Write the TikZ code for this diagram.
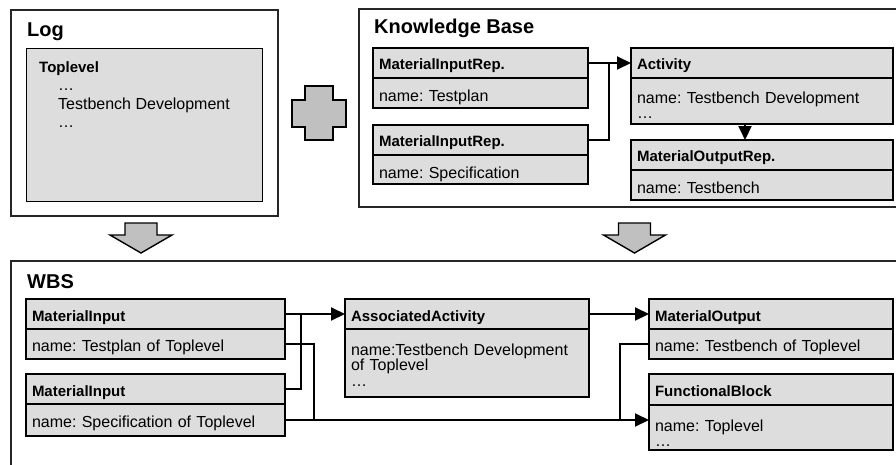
\documentclass[tikz,border=0pt]{standalone}
\usepackage{fontspec}
\setmainfont{Liberation Sans}
\usetikzlibrary{positioning,arrows.meta}
\definecolor{boxgray}{HTML}{DDDDDD}
\definecolor{arrgray}{HTML}{C0C0C0}
\frenchspacing
\newcommand{\dnarrow}[1]{%
  \draw[blk, shift={#1}] (-16,0) -- (16,0) -- (16,12) -- (31,12) -- (0,30)
    -- (-31,12) -- (-16,12) -- cycle;}

\begin{document}
\begin{tikzpicture}[x=1pt,y=-1pt,
    font=\fontsize{16}{15.5}\selectfont,
    frame/.style={draw=black!85, line width=1.3pt},
    blk/.style={draw, line width=1.4pt, fill=arrgray},
    hdr/.style={draw, line width=1.4pt, fill=boxgray, outer sep=0pt, inner xsep=6pt,
      inner ysep=0pt, text height=21.5pt, text depth=9.5pt, text width=#1, align=left,
      font=\fontsize{15}{18}\selectfont\bfseries},
    bdy/.style={draw, line width=1.4pt, fill=boxgray, outer sep=0pt, inner xsep=6pt,
      inner ysep=0pt, text height=23pt, text depth=7pt, text width=#1, align=left},
    ttl/.style={inner sep=0pt, anchor=west, font=\fontsize{20}{24}\selectfont\bfseries},
    conn/.style={line width=2pt},
    arr/.style={-{Triangle[length=14pt,width=13pt]}}]
  \clip (0,0) rectangle (896,464);
  \fill[white] (0,0) rectangle (896,464);

  % log
  \draw[frame] (11,10) rectangle (278,216);
  \node[ttl] (logTtl) at (27,32) {Log};
  \node[draw, line width=1.4pt, fill=boxgray, anchor=north west, minimum width=236pt,
    minimum height=153pt] (logTop) at (26,48) {};
  \node[anchor=north west, align=left, inner sep=0pt, font=\fontsize{16}{18.5}\selectfont] (logTxt)
    at ([shift={(13,13)}]logTop.north west)
    {{\fontsize{15}{18}\selectfont\bfseries Toplevel}\\ \hspace*{19pt}…\\
     \hspace*{19pt}Testbench Development\\ \hspace*{19pt}…};

  % merge sign
  \draw[blk] (305,86) -- (333,86) -- (333,100) -- (346,100) -- (346,127) -- (333,127)
    -- (333,140) -- (305,140) -- (305,127) -- (292,127) -- (292,100) -- (305,100) -- cycle;

  % knowledge base
  \draw[frame] (359,9) rectangle (910,207);
  \node[ttl] (kbTtl) at (374,28) {Knowledge Base};
  \node[hdr=203pt, anchor=north west, text depth=8.5pt] (kbIn1) at (373,48) {MaterialInputRep.};
  \node[bdy=203pt, below=0pt of kbIn1, text depth=7pt] (kbIn1b) {name: Testplan};
  \node[hdr=203pt, below=17pt of kbIn1b, text depth=8.5pt] (kbIn2) {MaterialInputRep.};
  \node[bdy=203pt, below=0pt of kbIn2, text depth=6pt] (kbIn2b) {name: Specification};
  \node[hdr=250pt, right=43pt of kbIn1, text depth=8.5pt] (kbAct) {Activity};
  \node[bdy=250pt, below=0pt of kbAct, text height=25pt, text depth=21pt] (kbActb)
    {name: Testbench Development\\…};
  \node[hdr=250pt, below=16pt of kbActb, text depth=8.5pt] (kbOut) {MaterialOutputRep.};
  \node[bdy=250pt, below=0pt of kbOut, text depth=7pt] (kbOutb) {name: Testbench};

  \coordinate (kbJoin) at ([xshift=21pt]kbIn1.east);
  \draw[conn, arr] (kbIn1.east) -- (kbAct.west);
  \draw[conn] (kbIn2.east) -| (kbJoin);
  \draw[conn, arr] ([xshift=-17pt]kbActb.south) -- ([xshift=-17pt]kbOut.north);

  % transformation arrows
  \dnarrow{(141,223)}
  \dnarrow{(634.5,223)}

  % wbs
  \draw[frame] (11,261) rectangle (910,480);
  \node[ttl] (wTtl) at (27,282) {WBS};
  \node[hdr=247pt, anchor=north west, text height=22pt, text depth=8pt] (wIn1) at (26,299) {MaterialInput};
  \node[bdy=247pt, below=0pt of wIn1, text height=22.5pt, text depth=7.5pt] (wIn1b)
    {name: Testplan of Toplevel};
  \node[hdr=247pt, below=15pt of wIn1b, text height=22pt, text depth=8pt] (wIn2) {MaterialInput};
  \node[bdy=247pt, below=0pt of wIn2, text height=23pt, text depth=9pt] (wIn2b)
    {name: Specification of Toplevel};
  \node[hdr=232pt, right=60pt of wIn1, text height=22pt, text depth=8pt] (wAct) {AssociatedActivity};
  \node[bdy=232pt, below=0pt of wAct, text height=26pt, text depth=42pt] (wActb)
    {name:Testbench Development\\of Toplevel\\…};
  \node[hdr=232pt, right=60pt of wAct, text height=22pt, text depth=8pt] (wOut) {MaterialOutput};
  \node[bdy=232pt, below=0pt of wOut, text height=22.5pt, text depth=7.5pt] (wOutb)
    {name: Testbench of Toplevel};
  \node[hdr=232pt, below=15pt of wOutb, text height=22pt, text depth=9pt] (wFb) {FunctionalBlock};
  \node[bdy=232pt, below=0pt of wFb, text height=26pt, text depth=19pt] (wFbb) {name: Toplevel\\…};

  \coordinate (wJoin) at ([xshift=16pt]wIn1.east);
  \draw[conn, arr] (wIn1.east) -- (wAct.west);
  \draw[conn] (wIn2.east) -| (wJoin);
  \draw[conn, arr] (wAct.east) -- (wOut.west);
  \draw[conn, arr] (wIn2b.east) -- (wIn2b.east -| wFbb.west);
  \draw[conn] (wIn1b.east) -| ([xshift=29pt]wIn2b.east);
  \draw[conn] (wOutb.west) -| ([xshift=-29pt]wIn2b.east -| wFbb.west);
\end{tikzpicture}
\end{document}
